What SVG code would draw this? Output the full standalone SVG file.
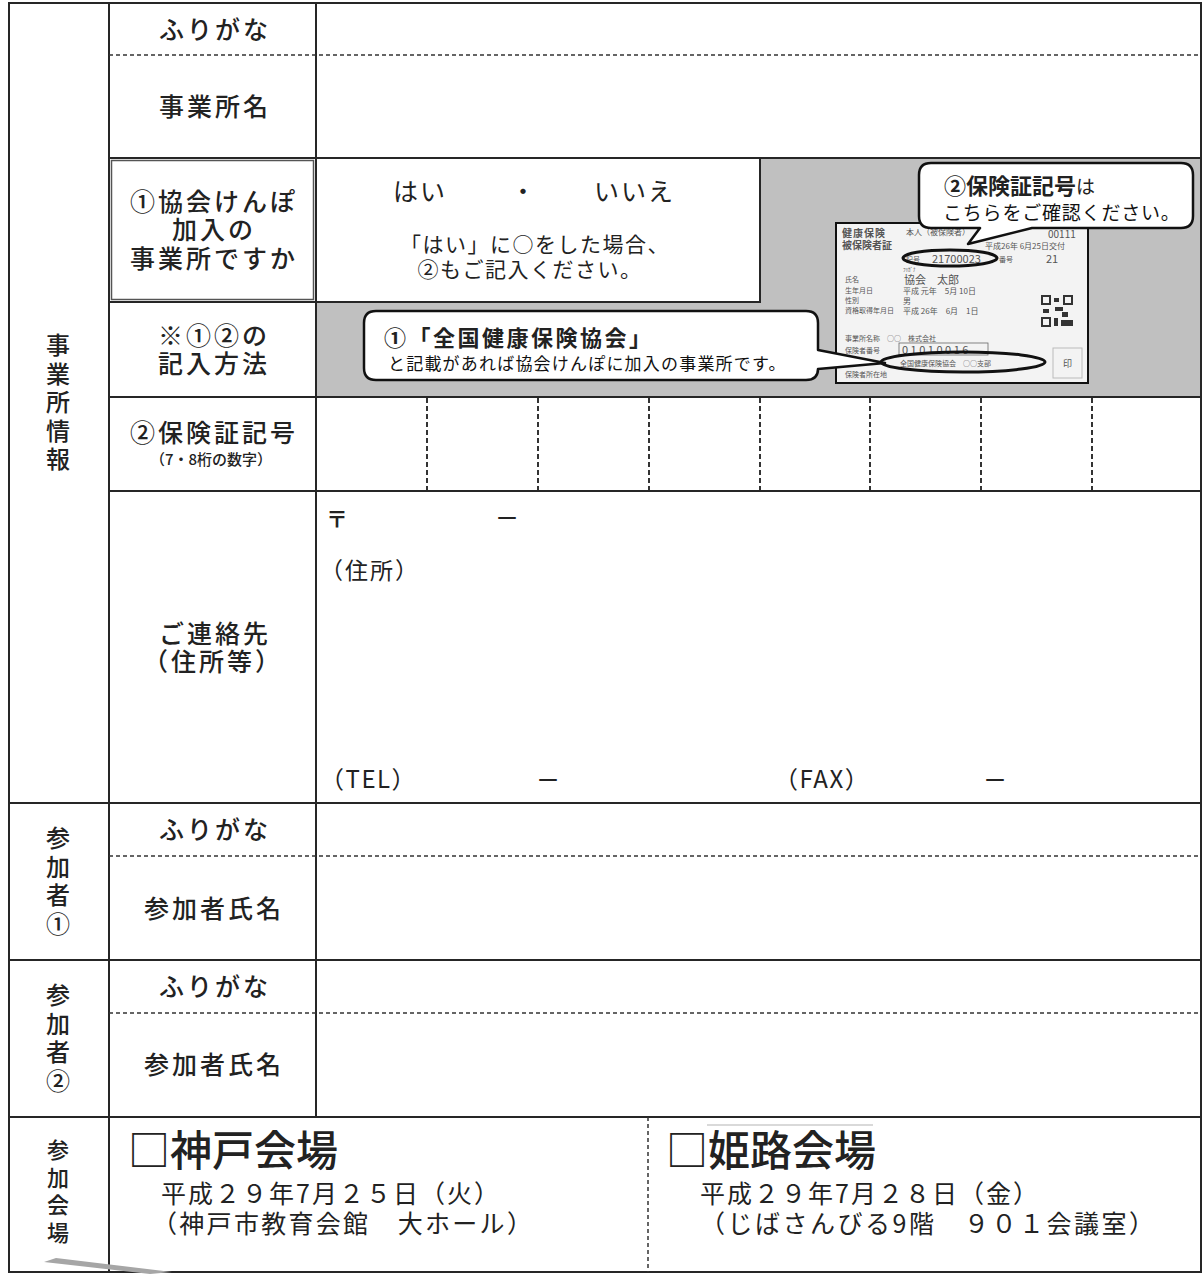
<svg xmlns="http://www.w3.org/2000/svg" width="1202" height="1274" viewBox="0 0 1202 1274">
<style>
.ln{stroke:#262626;stroke-width:2;fill:none}
.ds{stroke:#333;stroke-width:1.5;stroke-dasharray:4 3;fill:none}
.dv{stroke:#333;stroke-width:2;stroke-dasharray:5 3;fill:none}
.lb{font-family:"Noto Sans CJK JP","Noto Sans",sans-serif;font-size:25px;font-weight:500;fill:#222;letter-spacing:3px;text-anchor:middle}
.sm{font-family:"Noto Sans CJK JP","Noto Sans",sans-serif;font-size:15px;font-weight:500;fill:#222;letter-spacing:0;text-anchor:middle}
.vt{font-family:"Noto Sans CJK JP","Noto Sans",sans-serif;font-size:24px;font-weight:500;fill:#222;writing-mode:vertical-rl;letter-spacing:4.5px}
.vs{font-family:"Noto Sans CJK JP","Noto Sans",sans-serif;font-size:22px;font-weight:500;fill:#222;writing-mode:vertical-rl;letter-spacing:5.5px}
.tx{font-family:"Noto Sans CJK JP","Noto Sans",sans-serif;fill:#222}
.cd{font-family:"Noto Sans CJK JP","Noto Sans",sans-serif;fill:#555}
.co{fill:#fff;stroke:#111;stroke-width:2.5;stroke-linejoin:round}
</style>
<rect width="1202" height="1274" fill="#fff"/>

<g id="gray-area">
<rect x="316" y="158" width="885" height="239" fill="#c0c0c0"/>
<rect x="316" y="158" width="444" height="144" fill="#fff" stroke="#262626" stroke-width="2"/>
</g>

<g id="grid">
<rect x="9" y="3" width="1192" height="1269" class="ln"/>
<line x1="109" y1="3" x2="109" y2="1272" class="ln"/>
<line x1="316" y1="3" x2="316" y2="1117" class="ln"/>
<line x1="109" y1="55" x2="1201" y2="55" class="ds"/>
<line x1="109" y1="158" x2="1201" y2="158" class="ln"/>
<line x1="109" y1="302" x2="316" y2="302" class="ln"/>
<line x1="109" y1="397" x2="1201" y2="397" class="ln"/>
<line x1="109" y1="491" x2="1201" y2="491" class="ln"/>
<line x1="9" y1="803" x2="1201" y2="803" class="ln"/>
<line x1="109" y1="856" x2="1201" y2="856" class="ds"/>
<line x1="9" y1="960" x2="1201" y2="960" class="ln"/>
<line x1="109" y1="1013" x2="1201" y2="1013" class="ds"/>
<line x1="9" y1="1117" x2="1201" y2="1117" class="ln"/>
<line x1="648" y1="1117" x2="648" y2="1272" class="ds"/>
<rect x="111.5" y="160.5" width="202" height="139" fill="none" stroke="#555" stroke-width="1.5"/>
<g class="dv">
<line x1="427" y1="398" x2="427" y2="490"/>
<line x1="538" y1="398" x2="538" y2="490"/>
<line x1="649" y1="398" x2="649" y2="490"/>
<line x1="760" y1="398" x2="760" y2="490"/>
<line x1="870" y1="398" x2="870" y2="490"/>
<line x1="981" y1="398" x2="981" y2="490"/>
<line x1="1092" y1="398" x2="1092" y2="490"/>
</g>
</g>

<g id="section-labels">
<text class="vt" x="58" y="333">事業所情報</text>
<text class="vt" x="58" y="826">参加者①</text>
<text class="vt" x="58" y="983">参加者②</text>
<text class="vs" x="58" y="1139">参加会場</text>
</g>

<g id="row-labels">
<text class="lb" x="215" y="39">ふりがな</text>
<text class="lb" x="215" y="116">事業所名</text>
<text class="lb"><tspan x="214" y="211">①協会けんぽ</tspan><tspan x="214" y="239">加入の</tspan><tspan x="214" y="268">事業所ですか</tspan></text>
<text class="lb"><tspan x="214" y="345">※①②の</tspan><tspan x="214" y="373">記入方法</tspan></text>
<text class="lb"><tspan x="214" y="442">②保険証記号</tspan><tspan class="sm" x="211" y="465">（7・8桁の数字）</tspan></text>
<text class="lb"><tspan x="215" y="643">ご連絡先</tspan><tspan x="213" y="671">（住所等）</tspan></text>
<text class="lb" x="215" y="839">ふりがな</text>
<text class="lb" x="214" y="918">参加者氏名</text>
<text class="lb" x="215" y="996">ふりがな</text>
<text class="lb" x="214" y="1074">参加者氏名</text>
</g>

<g id="kyokai-answer">
<text class="tx" x="393" y="201" font-size="25" letter-spacing="2">はい</text>
<text class="tx" x="523" y="201" font-size="25" text-anchor="middle">・</text>
<text class="tx" x="594" y="201" font-size="25" letter-spacing="2">いいえ</text>
<text class="tx" font-size="21" text-anchor="middle" letter-spacing="1.5"><tspan x="535" y="252">「はい」に○をした場合、</tspan><tspan x="530" y="277">②もご記入ください。</tspan></text>
</g>

<g id="contact">
<text class="tx" x="326" y="527" font-size="22" font-weight="bold">〒</text>
<text class="tx" x="496" y="526" font-size="22">ー</text>
<text class="tx" x="320" y="579" font-size="23" letter-spacing="2">（住所）</text>
<text class="tx" x="320" y="788" font-size="24" letter-spacing="1.5">（TEL）</text>
<text class="tx" x="537" y="788" font-size="22">ー</text>
<text class="tx" x="774" y="788" font-size="24" letter-spacing="1.5">（FAX）</text>
<text class="tx" x="984" y="788" font-size="22">ー</text>
</g>

<g id="insurance-card">
<rect x="836" y="223" width="252" height="160" fill="#f3f3f3" stroke="#111" stroke-width="2"/>
<text class="cd" font-size="10" font-weight="bold" fill="#333"><tspan x="842" y="237" letter-spacing="1">健康保険</tspan><tspan x="842" y="249">被保険者証</tspan></text>
<text class="cd" x="906" y="235" font-size="8">本人（被保険者）</text>
<text class="cd" x="1048" y="238" font-size="10">00111</text>
<text class="cd" x="985" y="249" font-size="8">平成26年 6月25日交付</text>
<text class="cd" x="906" y="262" font-size="7">記号</text>
<text class="cd" x="932" y="263" font-size="11">21700023</text>
<text class="cd" x="999" y="262" font-size="7">番号</text>
<text class="cd" x="1046" y="263" font-size="11">21</text>
<text class="cd" x="903" y="271" font-size="5">ﾌﾘｶﾞﾅ</text>
<text class="cd" font-size="7"><tspan x="845" y="282">氏名</tspan><tspan x="845" y="293">生年月日</tspan><tspan x="845" y="303">性別</tspan><tspan x="845" y="313">資格取得年月日</tspan></text>
<text class="cd" x="904" y="284" font-size="11">協会　太郎</text>
<text class="cd" font-size="8"><tspan x="903" y="294">平成 元年　5月 10日</tspan><tspan x="903" y="304">男</tspan><tspan x="903" y="314">平成 26年　6月　1日</tspan></text>
<g fill="#333">
<rect x="1041" y="295" width="10" height="10"/><rect x="1063" y="295" width="10" height="10"/><rect x="1041" y="317" width="10" height="10"/>
<rect x="1054" y="298" width="5" height="4"/><rect x="1055" y="307" width="8" height="4"/><rect x="1062" y="312" width="6" height="5"/><rect x="1054" y="318" width="4" height="8"/><rect x="1061" y="320" width="12" height="6"/><rect x="1043" y="309" width="6" height="4"/>
</g>
<g fill="#f3f3f3"><rect x="1043" y="297" width="6" height="6"/><rect x="1065" y="297" width="6" height="6"/><rect x="1043" y="319" width="6" height="6"/></g>
<text class="cd" font-size="7"><tspan x="845" y="341">事業所名称　○○　株式会社</tspan><tspan x="845" y="353">保険者番号</tspan></text>
<rect x="899" y="343" width="89" height="12" fill="none" stroke="#666" stroke-width="0.8"/>
<text class="cd" x="902" y="354" font-size="11" letter-spacing="2.5">01010016</text>
<text class="cd" x="900" y="366" font-size="7">全国健康保険協会　○○支部</text>
<text class="cd" x="845" y="377" font-size="7">保険者所在地</text>
<rect x="1053" y="348" width="29" height="30" fill="none" stroke="#bbb" stroke-width="1"/>
<text class="cd" x="1067.5" y="367" font-size="9" text-anchor="middle" fill="#999">印</text>
<ellipse cx="950" cy="258" rx="47" ry="8" fill="none" stroke="#111" stroke-width="3"/>
<ellipse cx="963" cy="362" rx="82" ry="10" fill="none" stroke="#111" stroke-width="3"/>
</g>

<g id="callout-1">
<path class="co" d="M931 163 H1181 Q1193 163 1193 175 V216 Q1193 228 1181 228 H1032 L968 244 L980 228 H931 Q919 228 919 216 V175 Q919 163 931 163 Z"/>
<text class="tx" fill="#000"><tspan x="944" y="194" font-size="22" font-weight="bold">②保険証記号</tspan><tspan font-size="19">は</tspan><tspan x="943" y="220" font-size="19" letter-spacing="0.8" fill="#111">こちらをご確認ください。</tspan></text>
</g>

<g id="callout-2">
<path class="co" d="M376 311 H806 Q818 311 818 323 V350 L885 363 L818 369 Q818 380 806 380 H376 Q364 380 364 368 V323 Q364 311 376 311 Z"/>
<text class="tx" fill="#000"><tspan x="384" y="346" font-size="22" font-weight="bold" letter-spacing="2.5">①「全国健康保険協会」</tspan><tspan x="388" y="370" font-size="17" letter-spacing="1.2" fill="#111">と記載があれば協会けんぽに加入の事業所です。</tspan></text>
</g>

<g id="venue-kobe">
<text class="tx" x="128" y="1166" font-size="42" font-weight="500" fill="#000">□神戸会場</text>
<text class="tx" font-size="25" fill="#111"><tspan x="161" y="1203" letter-spacing="2">平成２９年7月２５日（火）</tspan><tspan x="152" y="1233" letter-spacing="2.3">（神戸市教育会館　大ホール）</tspan></text>
</g>

<g id="venue-himeji">
<line x1="707" y1="1125" x2="873" y2="1125" stroke="#ccc" stroke-width="1.5"/>
<text class="tx" x="666" y="1166" font-size="42" font-weight="500" fill="#000">□姫路会場</text>
<text class="tx" font-size="25" fill="#111"><tspan x="700" y="1203" letter-spacing="2">平成２９年7月２８日（金）</tspan><tspan x="700" y="1233" letter-spacing="2.5">（じばさんびる9階　９０１会議室）</tspan></text>
</g>

<g id="bottom-mark">
<polygon points="44,1262 56,1258 172,1272 150,1274" fill="#a6a6a6"/>
</g>
</svg>
